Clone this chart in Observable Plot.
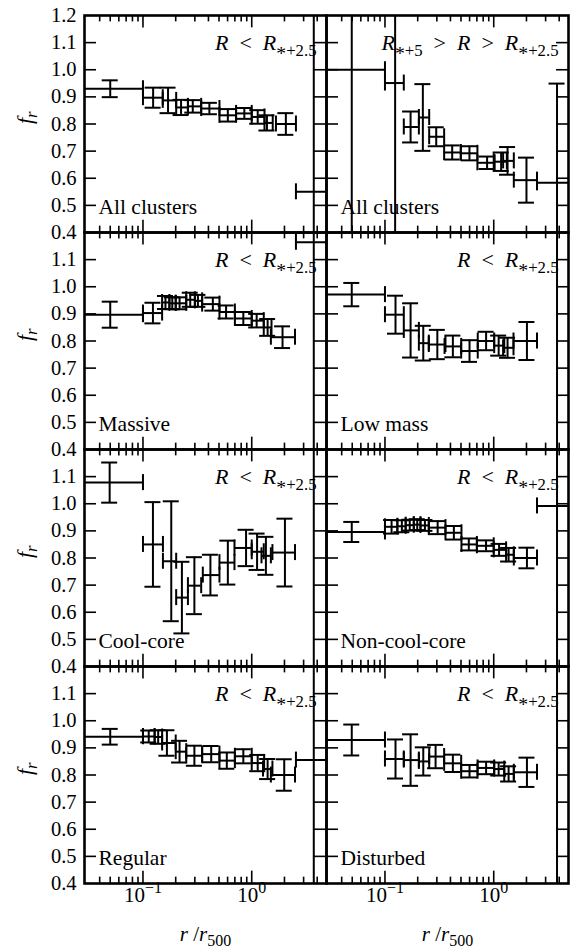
<!DOCTYPE html>
<html><head><meta charset="utf-8">
<script src="https://cdn.jsdelivr.net/npm/d3@7"></script>
<script src="https://cdn.jsdelivr.net/npm/@observablehq/plot@0.6"></script>
<style>
html,body{margin:0;padding:0;background:#fff;}
#chart svg{display:block;}
#chart svg text{font-family:'Liberation Serif',serif;}
</style>
</head><body><div id="chart"></div>
<script>
// Each row: [x, x bin low, x bin high, f_r, error]
const allClustersIn = [
  [0.05, 0.01, 0.1, 0.930, 0.031],
  [0.124, 0.1, 0.152, 0.897, 0.037],
  [0.17, 0.152, 0.202, 0.887, 0.047],
  [0.224, 0.202, 0.259, 0.861, 0.028],
  [0.287, 0.259, 0.343, 0.865, 0.023],
  [0.408, 0.343, 0.505, 0.857, 0.021],
  [0.603, 0.505, 0.718, 0.832, 0.023],
  [0.855, 0.718, 1.0, 0.839, 0.020],
  [1.135, 1.0, 1.31, 0.826, 0.025],
  [1.38, 1.31, 1.56, 0.804, 0.028],
  [2.06, 1.67, 2.55, 0.800, 0.040],
  [3.72, 2.55, 8, 0.550, 1.0]
];
const allClustersOut = [
  [0.0495, 0.01, 0.1, 1.000, 1.0],
  [0.124, 0.1, 0.149, 0.951, 1.0],
  [0.172, 0.149, 0.205, 0.789, 0.057],
  [0.223, 0.205, 0.255, 0.824, 0.123],
  [0.296, 0.255, 0.35, 0.753, 0.035],
  [0.415, 0.35, 0.498, 0.695, 0.026],
  [0.598, 0.498, 0.708, 0.692, 0.026],
  [0.869, 0.708, 1.02, 0.657, 0.023],
  [1.17, 1.0, 1.32, 0.661, 0.034],
  [1.34, 1.22, 1.53, 0.664, 0.051],
  [2.0, 1.53, 2.5, 0.593, 0.083],
  [3.82, 2.5, 8, 0.583, 0.366]
];
const massive = [
  [0.05, 0.01, 0.1, 0.897, 0.048],
  [0.1235, 0.1, 0.15, 0.903, 0.038],
  [0.161, 0.15, 0.175, 0.942, 0.024],
  [0.186, 0.175, 0.2, 0.939, 0.022],
  [0.217, 0.2, 0.25, 0.939, 0.022],
  [0.272, 0.25, 0.3, 0.952, 0.026],
  [0.32, 0.3, 0.35, 0.948, 0.022],
  [0.439, 0.35, 0.505, 0.936, 0.024],
  [0.581, 0.505, 0.7, 0.907, 0.024],
  [0.837, 0.7, 1.0, 0.883, 0.024],
  [1.11, 1.0, 1.29, 0.875, 0.025],
  [1.40, 1.29, 1.52, 0.850, 0.031],
  [1.92, 1.5, 2.5, 0.814, 0.040],
  [3.72, 2.55, 8, 1.164, 1.0]
];
const lowMass = [
  [0.0495, 0.01, 0.1, 0.971, 0.043],
  [0.125, 0.1, 0.149, 0.897, 0.070],
  [0.172, 0.149, 0.205, 0.839, 0.100],
  [0.225, 0.205, 0.253, 0.792, 0.064],
  [0.303, 0.253, 0.36, 0.787, 0.054],
  [0.421, 0.353, 0.502, 0.780, 0.040],
  [0.599, 0.502, 0.713, 0.763, 0.040],
  [0.851, 0.713, 1.01, 0.800, 0.034],
  [1.11, 1.01, 1.25, 0.783, 0.037],
  [1.34, 1.22, 1.52, 0.775, 0.037],
  [2.02, 1.52, 2.5, 0.800, 0.070],
  [3.82, 2.5, 8, 1.35, 1.0]
];
const coolCore = [
  [0.0494, 0.01, 0.1, 1.078, 0.074],
  [0.1235, 0.1, 0.1526, 0.850, 0.156],
  [0.182, 0.1526, 0.202, 0.788, 0.221],
  [0.228, 0.202, 0.259, 0.654, 0.132],
  [0.297, 0.259, 0.343, 0.698, 0.105],
  [0.417, 0.355, 0.505, 0.737, 0.075],
  [0.603, 0.505, 0.694, 0.783, 0.081],
  [0.887, 0.694, 1.0, 0.837, 0.067],
  [1.12, 1.0, 1.29, 0.823, 0.067],
  [1.35, 1.23, 1.5, 0.808, 0.070],
  [2.02, 1.55, 2.5, 0.820, 0.125],
  [3.72, 2.55, 8, 1.35, 1.0]
];
const nonCoolCore = [
  [0.0495, 0.01, 0.1, 0.896, 0.037],
  [0.115, 0.1, 0.13, 0.915, 0.025],
  [0.143, 0.13, 0.155, 0.917, 0.022],
  [0.169, 0.155, 0.184, 0.921, 0.020],
  [0.198, 0.184, 0.212, 0.923, 0.020],
  [0.233, 0.212, 0.253, 0.920, 0.020],
  [0.305, 0.253, 0.36, 0.912, 0.024],
  [0.43, 0.36, 0.505, 0.893, 0.025],
  [0.59, 0.505, 0.70, 0.850, 0.022],
  [0.85, 0.70, 1.0, 0.845, 0.020],
  [1.12, 1.0, 1.3, 0.830, 0.022],
  [1.37, 1.3, 1.53, 0.812, 0.025],
  [2.02, 1.53, 2.5, 0.800, 0.038],
  [3.82, 2.5, 8, 0.992, 1.0]
];
const regular = [
  [0.05, 0.01, 0.1, 0.941, 0.029],
  [0.113, 0.1, 0.128, 0.942, 0.022],
  [0.138, 0.128, 0.15, 0.940, 0.025],
  [0.166, 0.15, 0.2, 0.918, 0.047],
  [0.217, 0.2, 0.25, 0.886, 0.040],
  [0.297, 0.25, 0.35, 0.871, 0.037],
  [0.424, 0.35, 0.505, 0.877, 0.030],
  [0.59, 0.505, 0.70, 0.853, 0.030],
  [0.837, 0.70, 1.0, 0.869, 0.026],
  [1.135, 1.0, 1.3, 0.844, 0.030],
  [1.40, 1.27, 1.55, 0.822, 0.037],
  [1.99, 1.5, 2.5, 0.800, 0.058],
  [3.72, 2.55, 8, 0.855, 1.0]
];
const disturbed = [
  [0.0495, 0.01, 0.1, 0.929, 0.057],
  [0.125, 0.1, 0.149, 0.859, 0.072],
  [0.172, 0.149, 0.205, 0.855, 0.095],
  [0.225, 0.205, 0.255, 0.850, 0.052],
  [0.292, 0.255, 0.35, 0.868, 0.043],
  [0.421, 0.35, 0.502, 0.843, 0.032],
  [0.599, 0.502, 0.71, 0.814, 0.023],
  [0.851, 0.71, 1.01, 0.826, 0.023],
  [1.11, 1.01, 1.25, 0.822, 0.024],
  [1.37, 1.25, 1.53, 0.804, 0.028],
  [2.02, 1.53, 2.5, 0.810, 0.054],
  [3.82, 2.5, 8, 1.35, 1.0]
];

const panelSeries = [allClustersIn, allClustersOut, massive, lowMass, coolCore, nonCoolCore, regular, disturbed];
const panelNames = ["All clusters", "All clusters", "Massive", "Low mass", "Cool-core", "Non-cool-core", "Regular", "Disturbed"];
const inner = "R\u2002<\u2002R_{*+2.5}";
const shell = "R_{*+5}\u2002>\u2002R\u2002>\u2002R_{*+2.5}";
const panelSelections = [inner, shell, inner, inner, inner, inner, inner, inner];
const yTickLabels = [0.4, 0.5, 0.6, 0.7, 0.8, 0.9, 1.0, 1.1];
const yTopLabel = [1.2];
const yTickMarks = [0.5, 0.6, 0.7, 0.8, 0.9, 1.0, 1.1];
const xMajorTicks = [0.1, 1];
const xMinorTicks = [0.04, 0.05, 0.06, 0.07, 0.08, 0.09, 0.2, 0.3, 0.4, 0.5, 0.6, 0.7, 0.8, 0.9, 2, 3, 4];
const xTickLabels = ["10^{−1}", "10^{0}"];
const xAxisLabel = "r /r_{500}";
const yAxisLabel = "f_{r}";

const rows = panelSeries.flatMap((s, i) => s.map(([x, xlo, xhi, y, e]) =>
  ({col: i % 2, row: Math.floor(i / 2), x, xlo, xhi, y, ylo: y - e, yhi: y + e})));
const panels = panelNames.map((name, i) => ({col: i % 2, row: Math.floor(i / 2), name, sel: panelSelections[i]}));
const yLabelData = [0, 1, 2, 3].flatMap(r => (r === 0 ? yTickLabels.concat(yTopLabel) : yTickLabels).map(v => ({r, v})));
const xLabelData = [0, 1].flatMap(c => xMajorTicks.map((v, k) => ({c, v, t: xTickLabels[k]})));

const W = 571, H = 949, mL = 83, mR = 3, mT = 15, mB = 65.5;
const fw = (W - mL - mR) / 2, fh = (H - mT - mB) / 4;
const cap = 8, lw = 2, big = 12.5, small = 6.5, tw = 1.6;
const serif = "'Liberation Serif', serif";
const base = {fx: "col", fy: "row", stroke: "black", strokeWidth: lw, clip: true};

const plot = Plot.plot({
  width: W, height: H,
  marginLeft: mL, marginRight: mR, marginTop: mT, marginBottom: mB,
  style: {fontFamily: serif, fontSize: "20px", color: "black", background: "white"},
  x: {type: "log", domain: [0.029, 4.87], axis: null},
  y: {domain: [0.4, 1.2], axis: null},
  fx: {domain: [0, 1], padding: 0, axis: null},
  fy: {domain: [0, 1, 2, 3], padding: 0, axis: null},
  marks: [
    Plot.ruleY(rows, {...base, y: "y", x1: "xlo", x2: "xhi"}),
    Plot.ruleX(rows, {...base, x: "x", y1: "ylo", y2: "yhi"}),
    Plot.ruleX(rows, {...base, x: "xlo", y1: "y", y2: "y", insetTop: -cap, insetBottom: -cap}),
    Plot.ruleX(rows, {...base, x: "xhi", y1: "y", y2: "y", insetTop: -cap, insetBottom: -cap}),
    Plot.ruleY(rows, {...base, y: "ylo", x1: "x", x2: "x", insetLeft: -cap, insetRight: -cap}),
    Plot.ruleY(rows, {...base, y: "yhi", x1: "x", x2: "x", insetLeft: -cap, insetRight: -cap}),
    // inward ticks on all four sides
    Plot.tickX(xMajorTicks, {x: d => d, insetBottom: fh - big, strokeWidth: tw}),
    Plot.tickX(xMajorTicks, {x: d => d, insetTop: fh - big, strokeWidth: tw}),
    Plot.tickX(xMinorTicks, {x: d => d, insetBottom: fh - small, strokeWidth: tw}),
    Plot.tickX(xMinorTicks, {x: d => d, insetTop: fh - small, strokeWidth: tw}),
    Plot.tickY(yTickMarks, {y: d => d, insetRight: fw - big, strokeWidth: tw}),
    Plot.tickY(yTickMarks, {y: d => d, insetLeft: fw - big, strokeWidth: tw}),
    Plot.frame({stroke: "black", strokeWidth: 2.6}),
    // panel texts
    Plot.text(panels, {fx: "col", fy: "row", text: "name", frameAnchor: "bottom-left", textAnchor: "start", dx: 14, dy: -19, fontSize: 21.5, fontFamily: serif}),
    Plot.text(panels, {fx: "col", fy: "row", text: "sel", frameAnchor: "top-right", textAnchor: "end", dx: -10, dy: 19, fontSize: 22, fontFamily: serif, ariaDescription: "rich"}),
    // y tick labels
    Plot.text(yLabelData, {fx: () => 0, fy: "r", y: "v", text: d => d.v.toFixed(1), frameAnchor: "left", textAnchor: "end", dx: -8, fontSize: 20.5, fontFamily: serif}),
    // x tick labels
    Plot.text(xLabelData, {fx: "c", fy: () => 3, x: "v", text: "t", frameAnchor: "bottom", dy: 18, fontSize: 21, fontFamily: serif, ariaDescription: "rich"}),
    // axis titles
    Plot.text([0, 1, 2, 3], {fx: () => 0, fy: d => d, text: () => yAxisLabel, frameAnchor: "left", dx: -60, rotate: -90, fontSize: 22, fontFamily: serif, ariaDescription: "rich"}),
    Plot.text([0, 1], {fx: d => d, fy: () => 3, text: () => xAxisLabel, frameAnchor: "bottom", dy: 57, fontSize: 21, fontFamily: serif, ariaDescription: "rich"})
  ]
});

// turn the light markup (_{sub}, ^{sup}) into tspans with italic letters;
// the asterisk is lowered onto the math axis as in TeX
function richify(el) {
  const src = el.textContent;
  const g0 = el.closest("g[font-size]");
  const fs = (g0 && parseFloat(g0.getAttribute("font-size"))) || 20;
  const chars = [];
  let i = 0;
  while (i < src.length) {
    if ((src[i] === "_" || src[i] === "^") && src[i + 1] === "{") {
      const j = src.indexOf("}", i);
      const m = src[i] === "_" ? 1 : -1;
      for (const ch of src.slice(i + 2, j)) chars.push({ch, m});
      i = j + 1;
    } else { chars.push({ch: src[i], m: 0}); i++; }
  }
  const groups = [];
  for (const c of chars) {
    const it = /[A-Za-z]/.test(c.ch);
    const star = c.ch === "*";
    const g = groups[groups.length - 1];
    if (g && !star && !g.star && g.m === c.m && g.it === it) g.text += c.ch;
    else groups.push({m: c.m, it, star, text: c.ch});
  }
  el.textContent = "";
  el.style.whiteSpace = "pre";
  let cur = 0;
  for (const g of groups) {
    const t = document.createElementNS("http://www.w3.org/2000/svg", "tspan");
    let shift = g.m === 1 ? fs * 0.26 : g.m === -1 ? -fs * 0.4 : 0;
    if (g.star) shift += fs * 0.2;
    if (shift !== cur) { t.setAttribute("dy", (shift - cur).toFixed(2)); cur = shift; }
    if (g.m !== 0) t.setAttribute("font-size", (fs * (g.star ? 0.9 : 0.76)).toFixed(2));
    if (g.it) t.setAttribute("font-style", "italic");
    t.textContent = g.text;
    el.appendChild(t);
  }
}
plot.querySelectorAll('g[aria-description="rich"] text').forEach(richify);
document.getElementById("chart").appendChild(plot);
</script>
</body></html>
